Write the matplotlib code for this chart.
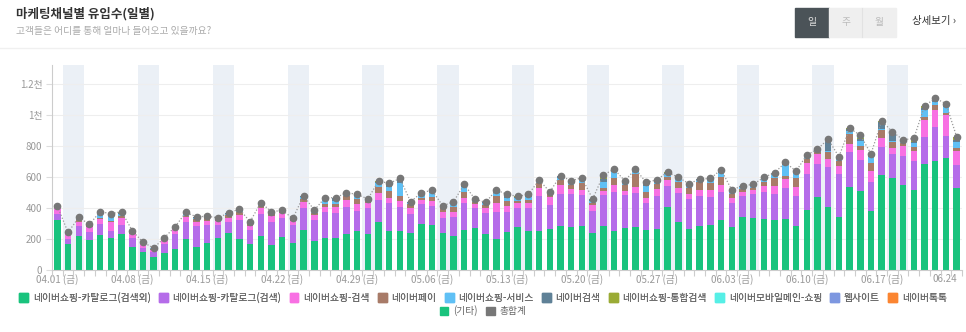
import matplotlib
matplotlib.use("Agg")
import matplotlib.pyplot as plt
from matplotlib.patches import Rectangle, Patch
import numpy as np

plt.rcParams['font.family'] = ['Noto Sans CJK KR', 'DejaVu Sans']

# 04.01 ~ 06.24 일별 유입수
days = 85
saturdays = [1, 8, 15, 22, 29, 36, 43, 50, 57, 64, 71, 78]
tick_pos = [0, 7, 14, 21, 28, 35, 42, 49, 56, 63, 70, 77, 84]
tick_labels = ['04.01 (금)', '04.08 (금)', '04.15 (금)', '04.22 (금)', '04.29 (금)',
               '05.06 (금)', '05.13 (금)', '05.20 (금)', '05.27 (금)', '06.03 (금)',
               '06.10 (금)', '06.17 (금)', '06.24']
y_ticks = [0, 200, 400, 600, 800, 1000, 1200]
y_labels = ['0', '200', '400', '600', '800', '1천', '1.2천']

catalog_etc = [323, 166, 220, 196, 226, 207, 230, 151, 114, 86, 110, 136, 202, 149, 177, 209, 241,
               198, 166, 222, 161, 215, 172, 258, 189, 209, 209, 230, 252, 230, 312, 252, 252, 241,
               295, 291, 241, 217, 258, 269, 230, 202, 243, 278, 254, 254, 265, 286, 280, 284, 241,
               282, 252, 273, 276, 258, 267, 405, 308, 267, 282, 288, 321, 276, 344, 336, 331, 325,
               331, 282, 388, 471, 405, 342, 538, 512, 381, 614, 596, 549, 517, 685, 706, 726, 527]
catalog_search = [39, 36, 64, 47, 73, 47, 61, 54, 30, 30, 60, 97, 110, 135, 114, 84, 71, 127, 92,
                  138, 151, 119, 119, 145, 134, 163, 161, 175, 129, 168, 142, 183, 157, 123, 131,
                  125, 97, 123, 177, 129, 140, 175, 129, 120, 144, 224, 155, 205, 209, 200, 142,
                  202, 254, 211, 223, 173, 209, 140, 189, 192, 196, 183, 185, 155, 136, 153, 171,
                  168, 196, 198, 234, 211, 260, 276, 226, 198, 189, 183, 151, 189, 187, 172, 220,
                  142, 151]
shop_search = [36, 35, 28, 37, 30, 58, 43, 25, 22, 15, 24, 32, 28, 28, 28, 26, 26, 30, 28, 38, 35,
               32, 28, 38, 32, 35, 35, 47, 45, 33, 43, 28, 39, 39, 24, 32, 34, 32, 28, 28, 33, 54,
               41, 37, 33, 49, 54, 58, 32, 33, 37, 28, 43, 26, 37, 36, 45, 34, 30, 32, 39, 48, 43,
               32, 26, 26, 40, 49, 61, 58, 67, 65, 54, 52, 48, 65, 69, 58, 39, 65, 67, 110, 107,
               137, 91]
naver_pay = [6, 2, 12, 8, 10, 5, 13, 10, 6, 5, 8, 8, 12, 15, 15, 10, 17, 17, 15, 15, 17, 8, 8, 17,
             15, 19, 21, 28, 33, 15, 39, 49, 30, 23, 17, 26, 26, 37, 43, 15, 17, 47, 35, 13, 21,
             33, 15, 32, 28, 43, 11, 20, 47, 39, 84, 35, 34, 22, 44, 36, 49, 45, 54, 26, 15, 17,
             29, 50, 21, 56, 26, 13, 41, 34, 64, 28, 50, 49, 39, 15, 26, 23, 33, 10, 17]
shop_service = [4, 0, 0, 4, 30, 30, 15, 6, 4, 4, 5, 5, 12, 12, 8, 6, 8, 12, 6, 12, 8, 8, 4, 15, 10,
                37, 22, 12, 17, 10, 24, 26, 86, 10, 17, 25, 10, 15, 28, 10, 10, 17, 19, 15, 22, 12,
                10, 15, 15, 25, 15, 38, 35, 15, 15, 43, 15, 17, 15, 15, 13, 15, 26, 13, 13, 11, 15,
                20, 69, 30, 17, 15, 10, 17, 22, 30, 39, 10, 10, 15, 21, 43, 22, 40, 39]
naver_search = [3, 2, 6, 3, 6, 12, 7, 3, 3, 2, 2, 2, 6, 5, 5, 3, 5, 6, 5, 6, 5, 3, 3, 5, 5, 4, 15,
                6, 10, 3, 10, 16, 20, 5, 12, 12, 7, 13, 14, 8, 7, 16, 16, 10, 11, 7, 7, 10, 10, 8,
                10, 20, 16, 10, 12, 16, 10, 11, 10, 12, 8, 10, 14, 11, 8, 8, 10, 13, 12, 11, 8, 6,
                64, 8, 12, 14, 13, 42, 50, 3, 12, 14, 10, 10, 14]
shop_total = [2, 2, 8, 0, 2, 5, 8, 5, 0, 0, 0, 0, 2, 0, 0, 0, 0, 4, 0, 4, 0, 0, 0, 2, 2, 0, 4, 2,
              3, 0, 5, 6, 8, 0, 4, 4, 0, 4, 5, 0, 0, 6, 6, 3, 4, 2, 0, 3, 3, 3, 3, 14, 5, 3, 5, 5,
              3, 4, 3, 4, 0, 3, 5, 4, 3, 2, 3, 4, 5, 4, 3, 0, 12, 3, 5, 8, 10, 8, 8, 6, 15, 10, 8,
              8, 20]
mobile_main = [0] * 85
mobile_main[2] = 2
mobile_main[51] = 10
mobile_main[75] = 5
mobile_main[80] = 5
mobile_main[81] = 4
mobile_main[82] = 3
mobile_main[83] = 3
mobile_main[84] = 2
website = [0] * 85
website[75] = 4
talktalk = [0] * 85
talktalk[75] = 8
etc = [0] * 85

names = ['네이버쇼핑-카탈로그(검색외)', '네이버쇼핑-카탈로그(검색)', '네이버쇼핑-검색', '네이버페이',
         '네이버쇼핑-서비스', '네이버검색', '네이버쇼핑-통합검색', '네이버모바일메인-쇼핑',
         '웹사이트', '네이버톡톡', '(기타)']
colors = ['#19c37d', '#b56ce9', '#f870e3', '#a87b68', '#5fc0f5', '#5f8197', '#9aab35',
          '#56efe6', '#7d97e0', '#fb8531', '#19c37d']
series = [catalog_etc, catalog_search, shop_search, naver_pay, shop_service, naver_search,
          shop_total, mobile_main, website, talktalk, etc]

fig = plt.figure(figsize=(9.66, 3.32), dpi=100)

# 헤더 영역 (픽셀 좌표)
hd = fig.add_axes([0, 0, 1, 1])
hd.set_xlim(0, 966)
hd.set_ylim(332, 0)
hd.axis('off')
hd.text(16, 14, '마케팅채널별 유입수(일별)', fontsize=9, color='#333333', va='center',
        fontweight='bold')
hd.text(16, 31, '고객들은 어디를 통해 얼마나 들어오고 있을까요?', fontsize=7, color='#aaaaaa',
        va='center')
hd.add_patch(Rectangle((795, 8), 34, 29, color='#4b5358'))
hd.add_patch(Rectangle((829, 8), 67, 29, color='#efefef'))
hd.plot([862, 862], [8, 37], color='#e2e2e2', lw=0.8)
hd.text(812, 22.5, '일', fontsize=7, color='#dddddd', ha='center', va='center')
hd.text(845.5, 22.5, '주', fontsize=7, color='#bbbbbb', ha='center', va='center')
hd.text(879, 22.5, '월', fontsize=7, color='#bbbbbb', ha='center', va='center')
hd.text(912, 21, '상세보기 ›', fontsize=7.5, color='#333333', va='center')
hd.plot([0, 966], [48, 48], color='#f0f0f0', lw=1)

ax = fig.add_axes([52 / 966, 1 - 270 / 332, 910 / 966, 205 / 332])
x = np.arange(days)

for s in saturdays:
    ax.axvspan(s - 0.5, s + 1.5, color='#ebf0f6', lw=0, zorder=0)

bottom = np.zeros(days)
for vals, c in zip(series, colors):
    v = np.array(vals, dtype=float)
    ax.bar(x, v, width=0.6, bottom=bottom, color=c, zorder=2, lw=0)
    bottom += v

ax.plot(x, bottom, color='#999999', ls=(0, (1, 1.5)), lw=0.9, zorder=3)
ax.plot(x, bottom, 'o', color='#777777', ms=4.5, mec='#777777', zorder=4)

ax.set_xlim(-0.5, days - 0.5)
ax.set_ylim(0, 1325)
ax.set_yticks(y_ticks)
ax.set_yticklabels(y_labels)
ax.set_xticks(tick_pos)
ax.set_xticklabels(tick_labels)
ax.get_xticklabels()[-1].set_horizontalalignment('right')
ax.set_xticks(np.arange(-0.5, days, 1), minor=True)
ax.tick_params(axis='x', which='major', length=0, labelsize=7, labelcolor='#999999', pad=3)
ax.tick_params(axis='x', which='minor', length=4, color='#cccccc', width=0.8)
ax.tick_params(axis='y', length=4, color='#dddddd', labelsize=7, labelcolor='#999999', pad=3)
ax.grid(axis='y', color='#eeeeee', lw=0.8, zorder=1)
ax.set_axisbelow(True)
for sp in ['top', 'right']:
    ax.spines[sp].set_visible(False)
ax.spines['left'].set_color('#cccccc')
ax.spines['bottom'].set_color('#cccccc')
ax.set_facecolor('none')

handles = [Patch(color=c) for c in colors] + [Patch(color='#777777')]
labels = names + ['총합계']
kw = dict(frameon=False, fontsize=7, handlelength=0.9, handleheight=0.9,
          handletextpad=0.5, columnspacing=0.85, labelcolor='#666666', borderpad=0,
          borderaxespad=0)
leg1 = fig.legend(handles[:10], labels[:10], ncol=10, loc='center',
                  bbox_to_anchor=(0.5, 1 - 297.5 / 332), **kw)
fig.add_artist(leg1)
fig.legend(handles[10:], labels[10:], ncol=2, loc='center',
           bbox_to_anchor=(0.5, 1 - 311 / 332), **kw)

fig.savefig('out.png', dpi=100)
